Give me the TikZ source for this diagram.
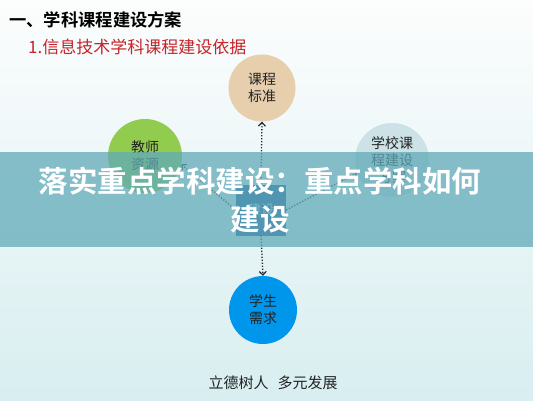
\documentclass[tikz,border=0pt]{standalone}
\usepackage{fontspec}
\newfontfamily\cjk{Noto Sans CJK SC}[BoldFont={* Bold}]
\usetikzlibrary{arrows.meta}
\definecolor{bgtop}{RGB}{252,253,253}
\definecolor{bgbot}{RGB}{216,238,240}
\definecolor{titlered}{RGB}{196,36,42}
\definecolor{tanc}{RGB}{231,206,172}
\definecolor{greenc}{RGB}{146,204,78}
\definecolor{greyc}{RGB}{204,226,230}
\definecolor{bluec}{RGB}{0,150,236}
\definecolor{boxc}{RGB}{36,96,164}
\definecolor{bannerc}{RGB}{96,170,184}
\definecolor{linec}{RGB}{35,40,50}
\definecolor{textc}{RGB}{35,35,35}
\tikzset{
  circ/.style={circle, minimum size=#1, inner sep=0pt, align=center,
    font=\cjk\fontsize{14}{17}\selectfont, text=textc},
  conn/.style={draw=linec, line width=1.3pt, dash pattern=on 1.3pt off 1.7pt,
    -{Straight Barb[length=3.5pt,width=7pt,line width=1.2pt]}},
}
\begin{document}
\begin{tikzpicture}[x=1pt,y=-1pt]
\useasboundingbox (0,0) rectangle (533,400);
\shade[top color=bgtop, bottom color=bgbot] (0,0) rectangle (533,400);
% titles
\node[anchor=west, inner sep=0pt, font=\cjk\bfseries\fontsize{17.3}{20}\selectfont, text=black] (title) at (9,20) {一、学科课程建设方案};
\node[anchor=west, inner sep=0pt, font=\cjk\fontsize{17}{20}\selectfont, text=titlered] (sub) at (28,47) {1.信息技术学科课程建设依据};
% circles
\node[circ=67pt, fill=tanc] (std) at (262,88) {课程\\标准};
\node[circ=74pt, fill=greenc] (tea) at (145,156) {教师\\资源};
\node[circ=74pt, fill=greyc] (sch) at (392,160) {学校课\\程建设\\方案};
\node[circ=68pt, fill=bluec] (stu) at (263,310) {学生\\需求};
% centre box
\node[draw=none, fill=boxc, minimum width=50pt, minimum height=51pt, inner sep=0pt,
  font=\cjk\fontsize{13}{16}\selectfont, text=white!80!boxc, anchor=center] (box) at (261,210) {建设\\[18pt]};
% connectors
\draw[conn] (box.north) -- (std.south);
\draw[conn] (box.south) -- (stu.north);
\draw[conn] (box.west) -- (tea.-13);
\draw[conn] (box.east) -- (sch.200);
% bottom text
\node[inner sep=0pt, font=\cjk\fontsize{15}{18}\selectfont, text=textc] (motto) at (273,383) {立德树人\hspace{0.6em}多元发展};
% banner
\fill[bannerc, opacity=0.74] (0,152) rectangle (533,247);
\node[inner sep=0pt, align=center, font=\cjk\bfseries\fontsize{29.5}{38}\selectfont, text=white] (banner) at (260,200) {落实重点学科建设：重点学科如何\\建设};
\end{tikzpicture}
\end{document}
